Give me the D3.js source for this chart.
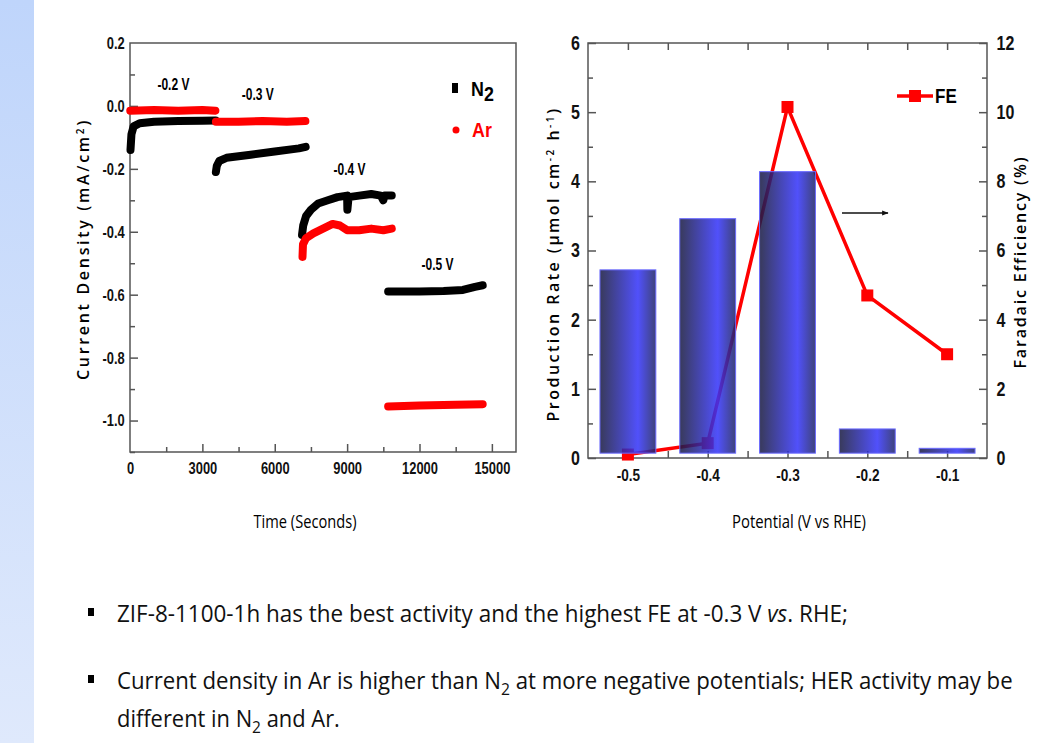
<!DOCTYPE html>
<html>
<head>
<meta charset="utf-8">
<script src="https://cdn.jsdelivr.net/npm/d3@7"></script>
<style>
  body { margin: 0; background: #fff; }
  svg { display: block; }
  .narrow { font-family: "Liberation Sans", Arial, sans-serif; font-weight: bold; }
  .title { font-family: "Open Sans", "Noto Sans", sans-serif; font-weight: 600; }
  .note { font-family: "Open Sans", "Noto Sans", sans-serif; }
</style>
</head>
<body>
<svg id="canvas" width="1047" height="743"></svg>
<script>
// ---- chronoamperometry (left panel) ----
const n2Segments = [
  [[20,-0.14],[60,-0.09],[150,-0.065],[400,-0.055],[1000,-0.05],[2000,-0.048],[3000,-0.047],[3550,-0.046]],
  [[3560,-0.21],[3600,-0.19],[3700,-0.175],[4000,-0.165],[5000,-0.155],[6000,-0.145],[7000,-0.135],[7280,-0.13]],
  [[7130,-0.41],[7180,-0.38],[7300,-0.35],[7500,-0.33],[7800,-0.31],[8200,-0.30],[8600,-0.29],[9000,-0.285],[9010,-0.33],[9060,-0.29],[9500,-0.285],[10000,-0.28],[10400,-0.285],[10500,-0.30],[10550,-0.285],[10850,-0.285]],
  [[10700,-0.59],[12000,-0.59],[13000,-0.588],[13800,-0.585],[14300,-0.575],[14620,-0.57]]
];
const arSegments = [
  [[10,-0.015],[1000,-0.013],[2000,-0.015],[3000,-0.013],[3540,-0.015]],
  [[3560,-0.05],[4500,-0.05],[5500,-0.048],[6500,-0.05],[7270,-0.048]],
  [[7150,-0.48],[7170,-0.44],[7300,-0.42],[7600,-0.405],[8000,-0.39],[8400,-0.375],[8700,-0.38],[9000,-0.395],[9500,-0.395],[10000,-0.39],[10500,-0.395],[10850,-0.39]],
  [[10700,-0.955],[12000,-0.952],[13500,-0.95],[14620,-0.948]]
];
const potentialLabels = [
  { text: '-0.2 V', t: 1800, j: 0.065 },
  { text: '-0.3 V', t: 5300, j: 0.035 },
  { text: '-0.4 V', t: 9100, j: -0.205 },
  { text: '-0.5 V', t: 12750, j: -0.505 }
];
const timeTicks = [0, 3000, 6000, 9000, 12000, 15000];
const currentTicks = [0.2, 0.0, -0.2, -0.4, -0.6, -0.8, -1.0];

// ---- production rate / FE (right panel) ----
const potentials = [-0.5, -0.4, -0.3, -0.2, -0.1];
const productionRate = [2.72, 3.46, 4.14, 0.42, 0.14];
const faradaicEff = [0.1, 0.43, 10.15, 4.7, 3.0];
const rateTicks = [0, 1, 2, 3, 4, 5, 6];
const feTicks = [0, 2, 4, 6, 8, 10, 12];

const svg = d3.select('#canvas');
const hyphen = f => d => f(d).replace('\u2212', '-');

// squeeze a text horizontally so it spans the given width
const fit = (sel, x, y, width) => {
  const len = sel.node().getComputedTextLength();
  sel.attr('x', null).attr('y', null)
     .attr('transform', `translate(${x},${y}) scale(${width / len},1)`);
  return sel;
};
// spread the letters of a text so it spans the given length
const spread = (sel, length) => {
  const len = sel.node().getComputedTextLength();
  const n = sel.text().length;
  sel.attr('letter-spacing', (length - len) / n);
  return sel;
};

// background strip at the left
const defs = svg.append('defs');
const strip = defs.append('linearGradient').attr('id', 'strip').attr('x1', 0).attr('x2', 0).attr('y1', 0).attr('y2', 1);
strip.append('stop').attr('offset', '0%').attr('stop-color', '#bfd5fb');
strip.append('stop').attr('offset', '100%').attr('stop-color', '#dfe9fc');
svg.append('rect').attr('x', 0).attr('y', 0).attr('width', 34).attr('height', 743).attr('fill', 'url(#strip)');

const barGrad = defs.append('linearGradient').attr('id', 'bar').attr('x1', 0).attr('x2', 1).attr('y1', 0).attr('y2', 0);
barGrad.append('stop').attr('offset', '0%').attr('stop-color', '#181a40');
barGrad.append('stop').attr('offset', '68%').attr('stop-color', '#3434fa');
barGrad.append('stop').attr('offset', '100%').attr('stop-color', '#1f2466');

const frameColor = '#555';

// ============ LEFT PANEL ============
const L = { left: 130, right: 516, top: 43, bottom: 452 };
const xT = d3.scaleLinear().domain([0, 16000]).range([L.left, L.right]);
const yJ = d3.scaleLinear().domain([-1.1, 0.2]).range([L.bottom, L.top]);

const left = svg.append('g');

left.append('rect')
    .attr('x', L.left).attr('y', L.top)
    .attr('width', L.right - L.left).attr('height', L.bottom - L.top)
    .attr('fill', 'none').attr('stroke', frameColor).attr('stroke-width', 1.5);

// bottom ticks (inward)
const bottomL = left.append('g').attr('transform', `translate(0,${L.bottom})`)
    .call(d3.axisBottom(xT).tickValues(d3.range(1500, 16000, 1500)).tickSize(-5).tickFormat(''));
bottomL.selectAll('line').filter((d) => d % 3000 === 0).attr('y2', -8);
const bottomLabels = left.append('g').attr('transform', `translate(0,${L.bottom})`)
    .call(d3.axisBottom(xT).tickValues(timeTicks).tickSize(0).tickPadding(10).tickFormat(d3.format('d')));

// left ticks (inward)
const leftL = left.append('g').attr('transform', `translate(${L.left},0)`)
    .call(d3.axisLeft(yJ).tickValues(d3.range(-11, 2).map(v => v / 10)).tickSize(-5).tickFormat(''));
leftL.selectAll('line').filter((d) => Math.abs(Math.round(d * 10)) % 2 === 0).attr('x2', 8);
const leftLabels = left.append('g').attr('transform', `translate(${L.left},0)`)
    .call(d3.axisLeft(yJ).tickValues(currentTicks).tickSize(0).tickPadding(7).tickFormat(hyphen(d3.format('.1f'))));

[bottomL, leftL, bottomLabels, leftLabels].forEach(g => {
  g.select('.domain').remove();
  g.selectAll('line').attr('stroke', frameColor).attr('stroke-width', 1.5);
  g.selectAll('text').attr('class', 'narrow').attr('font-size', 17).attr('fill', '#111')
   .attr('transform', 'scale(0.76,1)');
});

const lineTJ = d3.line().x(d => xT(d[0])).y(d => yJ(d[1]));

left.selectAll('.n2').data(n2Segments).enter().append('path')
    .attr('class', 'n2').attr('d', lineTJ)
    .attr('fill', 'none').attr('stroke', '#000').attr('stroke-width', 8)
    .attr('stroke-linejoin', 'round').attr('stroke-linecap', 'round');
left.selectAll('.ar').data(arSegments).enter().append('path')
    .attr('class', 'ar').attr('d', lineTJ)
    .attr('fill', 'none').attr('stroke', '#f00').attr('stroke-width', 8)
    .attr('stroke-linejoin', 'round').attr('stroke-linecap', 'round');

left.selectAll('.vlab').data(potentialLabels).enter().append('text')
    .attr('class', 'narrow vlab')
    .attr('transform', d => `translate(${xT(d.t)},${yJ(d.j) + 5}) scale(0.75,1)`)
    .attr('text-anchor', 'middle')
    .attr('font-size', 16).text(d => d.text);

// legend
left.append('rect').attr('x', 452).attr('y', 83).attr('width', 6).attr('height', 10).attr('fill', '#000');
const n2Lab = left.append('text').attr('class', 'narrow').attr('font-size', 21).attr('font-weight', 'normal')
    .attr('transform', 'translate(471,96) scale(0.85,1)');
n2Lab.append('tspan').text('N');
n2Lab.append('tspan').attr('dy', 5).text('2');
left.append('circle').attr('cx', 456).attr('cy', 130).attr('r', 3.5).attr('fill', '#f00');
left.append('text').attr('class', 'narrow').attr('font-size', 21).attr('font-weight', 'normal')
    .attr('transform', 'translate(472,137) scale(0.85,1)').attr('fill', '#f00').text('Ar');

// axis titles
const yTitleL = left.append('text').attr('class', 'title')
    .attr('transform', 'translate(89,249) rotate(-90)')
    .attr('text-anchor', 'middle').attr('font-size', 16);
yTitleL.append('tspan').text('Current Density (mA/cm');
yTitleL.append('tspan').attr('dy', -5).attr('font-size', 10).text('2');
yTitleL.append('tspan').attr('dy', 5).text(')');
spread(yTitleL, 262);
fit(left.append('text').attr('class', 'note').attr('font-size', 19).attr('text-anchor', 'middle')
    .text('Time (Seconds)'), 305, 528, 103);

// ============ RIGHT PANEL ============
const R = { left: 588, right: 987, top: 43, bottom: 458 };
const xP = d3.scaleLinear().domain([-0.55, -0.05]).range([R.left, R.right]);
const yRate = d3.scaleLinear().domain([0, 6]).range([R.bottom, R.top]);
const yFE = d3.scaleLinear().domain([0, 12]).range([R.bottom, R.top]);
const barWidth = xP(-0.43) - xP(-0.5);

const right = svg.append('g');

right.append('rect')
    .attr('x', R.left).attr('y', R.top)
    .attr('width', R.right - R.left).attr('height', R.bottom - R.top)
    .attr('fill', 'none').attr('stroke', frameColor).attr('stroke-width', 1.5);

const halfSteps = d3.range(-0.5, -0.05, 0.05);
const bottomR = right.append('g').attr('transform', `translate(0,${R.bottom})`)
    .call(d3.axisBottom(xP).tickValues(halfSteps).tickSize(-7).tickFormat(''));
const topR = right.append('g').attr('transform', `translate(0,${R.top})`)
    .call(d3.axisTop(xP).tickValues(halfSteps).tickSize(-7).tickFormat(''));
const bottomRLab = right.append('g').attr('transform', `translate(0,${R.bottom})`)
    .call(d3.axisBottom(xP).tickValues(potentials).tickSize(0).tickPadding(11).tickFormat(hyphen(d3.format('.1f'))));
const leftR = right.append('g').attr('transform', `translate(${R.left},0)`)
    .call(d3.axisLeft(yRate).tickValues(d3.range(0, 6.01, 0.5)).tickSize(-5).tickFormat(''));
leftR.selectAll('line').filter(d => d % 1 === 0).attr('x2', 8);
const leftRLab = right.append('g').attr('transform', `translate(${R.left},0)`)
    .call(d3.axisLeft(yRate).tickValues(rateTicks).tickSize(0).tickPadding(10).tickFormat(d3.format('d')));
const rightR = right.append('g').attr('transform', `translate(${R.right},0)`)
    .call(d3.axisRight(yFE).tickValues(d3.range(0, 13, 1)).tickSize(-5).tickFormat(''));
rightR.selectAll('line').filter(d => d % 2 === 0).attr('x2', -8);
const rightRLab = right.append('g').attr('transform', `translate(${R.right},0)`)
    .call(d3.axisRight(yFE).tickValues(feTicks).tickSize(0).tickPadding(12).tickFormat(d3.format('d')));

[bottomR, topR, bottomRLab, leftR, leftRLab, rightR, rightRLab].forEach(g => {
  g.select('.domain').remove();
  g.selectAll('line').attr('stroke', frameColor).attr('stroke-width', 1.5);
  g.selectAll('text').attr('class', 'narrow').attr('fill', '#111').attr('transform', 'scale(0.8,1)');
});
bottomRLab.selectAll('text').attr('font-size', 17);
leftRLab.selectAll('text').attr('font-size', 20);
rightRLab.selectAll('text').attr('font-size', 20);

// FE line (drawn under the bars)
const lineFE = d3.line().x((d, i) => xP(potentials[i])).y(d => yFE(d));
right.append('path').datum(faradaicEff)
    .attr('d', lineFE).attr('fill', 'none')
    .attr('stroke', '#f00').attr('stroke-width', 3.5);
right.selectAll('.fe').data(faradaicEff).enter().append('rect')
    .attr('class', 'fe')
    .attr('x', (d, i) => xP(potentials[i]) - 6).attr('y', d => yFE(d) - 6)
    .attr('width', 12).attr('height', 12).attr('fill', '#f00');

// bars
right.selectAll('.bar').data(productionRate).enter().append('rect')
    .attr('class', 'bar')
    .attr('x', (d, i) => xP(potentials[i]) - barWidth / 2)
    .attr('y', d => yRate(d))
    .attr('width', barWidth)
    .attr('height', d => yRate(0.07) - yRate(d))
    .attr('fill', 'url(#bar)').attr('fill-opacity', 0.86)
    .attr('stroke', '#6a6aff').attr('stroke-width', 1);

// FE legend
right.append('line').attr('x1', 897).attr('x2', 933).attr('y1', 96).attr('y2', 96)
    .attr('stroke', '#f00').attr('stroke-width', 3.5);
right.append('rect').attr('x', 909).attr('y', 90).attr('width', 12).attr('height', 12).attr('fill', '#f00');
right.append('text').attr('class', 'narrow').attr('font-size', 20).attr('font-weight', 'normal')
    .attr('transform', 'translate(935,103) scale(0.85,1)').text('FE');

// arrow pointing to the right axis
defs.append('marker').attr('id', 'arrow').attr('viewBox', '0 0 10 10')
    .attr('refX', 9).attr('refY', 5).attr('markerWidth', 5).attr('markerHeight', 5)
    .attr('orient', 'auto')
    .append('path').attr('d', 'M0,1 L10,5 L0,9 Z').attr('fill', '#111');
right.append('line').attr('x1', 842).attr('x2', 888).attr('y1', 213).attr('y2', 213)
    .attr('stroke', '#111').attr('stroke-width', 1.3).attr('marker-end', 'url(#arrow)');

// axis titles
const yTitleR = right.append('text').attr('class', 'title')
    .attr('transform', 'translate(559,264) rotate(-90)')
    .attr('text-anchor', 'middle').attr('font-size', 16);
yTitleR.append('tspan').text('Production Rate (μmol cm');
yTitleR.append('tspan').attr('dy', -5).attr('font-size', 10).text('-2');
yTitleR.append('tspan').attr('dy', 5).text(' h');
yTitleR.append('tspan').attr('dy', -5).attr('font-size', 10).text('-1');
yTitleR.append('tspan').attr('dy', 5).text(')');
spread(yTitleR, 315);
spread(right.append('text').attr('class', 'title')
    .attr('transform', 'translate(1026,262) rotate(-90)')
    .attr('text-anchor', 'middle').attr('font-size', 16)
    .text('Faradaic Efficiency (%)'), 213);
fit(right.append('text').attr('class', 'note').attr('font-size', 19).attr('text-anchor', 'middle')
    .text('Potential (V vs RHE)'), 799, 528, 134);

// ============ NOTES ============
const notes = svg.append('g').attr('class', 'note').attr('font-size', 24).attr('fill', '#111');
notes.append('rect').attr('x', 88).attr('y', 608).attr('width', 6).attr('height', 8).attr('fill', '#000');
notes.append('rect').attr('x', 88).attr('y', 675).attr('width', 6).attr('height', 8).attr('fill', '#000');

const line1 = notes.append('text');
line1.append('tspan').text('ZIF-8-1100-1h has the best activity and the highest FE at -0.3 V ');
line1.append('tspan').attr('font-style', 'italic').text('vs');
line1.append('tspan').text('. RHE;');
fit(line1, 117, 622, 731);

const line2 = notes.append('text');
line2.append('tspan').text('Current density in Ar is higher than N');
line2.append('tspan').attr('dy', 6).attr('font-size', 17).text('2');
line2.append('tspan').attr('dy', -6).text(' at more negative potentials; HER activity may be');
fit(line2, 117, 689, 896);

const line3 = notes.append('text');
line3.append('tspan').text('different in N');
line3.append('tspan').attr('dy', 6).attr('font-size', 17).text('2');
line3.append('tspan').attr('dy', -6).text(' and Ar.');
fit(line3, 117, 727, 223);
</script>
</body>
</html>
